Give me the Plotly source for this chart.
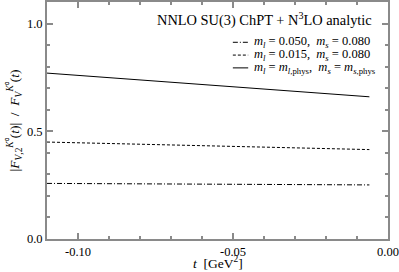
import plotly.graph_objects as go

t_vals = [-0.11, -0.006]
ratio_050 = [0.258, 0.251]
ratio_015 = [0.450, 0.415]
ratio_phys = [0.770, 0.660]

x_tickvals = [-0.10, -0.05, 0.00]
x_ticktext = ["-0.10", "-0.05", "0.00"]
y_tickvals = [0.0, 0.5, 1.0]
y_ticktext = ["0.0", "0.5", "1.0"]

names = [
    "<i>m<sub>l</sub></i> = 0.050,  <i>m<sub>s</sub></i> = 0.080",
    "<i>m<sub>l</sub></i> = 0.015,  <i>m<sub>s</sub></i> = 0.080",
    "<i>m<sub>l</sub></i> = <i>m</i><sub><i>l</i>,phys</sub>,  <i>m<sub>s</sub></i> = <i>m</i><sub><i>s</i>,phys</sub>",
]
dashes = ["5px,2px,1px,2px", "3px,2px", "solid"]
series = [ratio_050, ratio_015, ratio_phys]

font = "Liberation Serif, Times New Roman, serif"
gray = "#8a8a8a"

fig = go.Figure()
for name, vals, dash in zip(names, series, dashes):
    fig.add_trace(go.Scatter(x=t_vals, y=vals, mode="lines", name=name, showlegend=False,
                             line=dict(color="black", width=1, dash=dash)))

axis_common = dict(showline=True, linecolor=gray, linewidth=2, mirror="ticks",
                   ticks="inside", tickcolor=gray, tickwidth=1.5, ticklen=6,
                   showgrid=False, zeroline=False, automargin=False,
                   tickfont=dict(family=font, size=12.5, color="black"))
fig.update_layout(
    width=399, height=272,
    margin=dict(l=47, r=11, t=2, b=33),
    paper_bgcolor="white", plot_bgcolor="white",
    font=dict(family=font, size=12, color="black"),
    xaxis=dict(range=[-0.11, 0.0], tickvals=x_tickvals, ticktext=x_ticktext,
               minor=dict(dtick=0.01, tick0=0, ticks="inside", ticklen=3, tickcolor=gray),
               **axis_common),
    yaxis=dict(range=[0, 1.1], tickvals=y_tickvals, ticktext=y_ticktext,
               minor=dict(dtick=0.1, tick0=0, ticks="inside", ticklen=3, tickcolor=gray),
               title=dict(text="|<i>F</i><sub><i>V</i>,2</sub><sup><i>K</i>⁰</sup>(<i>t</i>)|  /  <i>F</i><sub><i>V</i></sub><sup><i>K</i>⁰</sup>(<i>t</i>)",
                          font=dict(family=font, size=13.5), standoff=4),
               **axis_common),
    showlegend=False,
)
fig.add_annotation(xref="paper", yref="paper", x=0.5, y=-0.1, xanchor="center", yanchor="middle",
                   text="<i>t</i>  [GeV<sup>2</sup>]", showarrow=False,
                   font=dict(family=font, size=13.5))
fig.add_annotation(xref="paper", yref="paper", x=0.958, y=0.928, xanchor="right", yanchor="middle",
                   text="NNLO SU(3) ChPT + N<sup>3</sup>LO analytic", showarrow=False,
                   font=dict(family=font, size=14.4))

# manual legend
leg_y = [0.83, 0.776, 0.722]
for name, dash, yy in zip(names, dashes, leg_y):
    fig.add_annotation(xref="paper", yref="paper", x=0.600, y=yy, xanchor="left", yanchor="middle",
                       text=name, showarrow=False, font=dict(family=font, size=12.5))
    fig.add_shape(type="line", xref="paper", yref="paper", x0=0.545, x1=0.59, y0=yy, y1=yy,
                  line=dict(color="black", width=1, dash=dash))
fig.write_html("out.html",
               post_script="document.body.style.margin='0';document.body.style.overflow='hidden';",
               config={"displayModeBar": False})
